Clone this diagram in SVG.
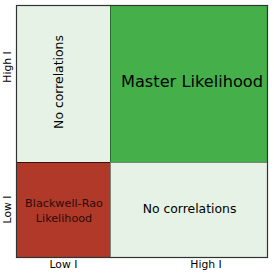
<svg xmlns="http://www.w3.org/2000/svg" width="274" height="274" viewBox="0 0 274 274">
<style>
text{font-family:"DejaVu Sans",sans-serif;fill:#000}
.lab{font-size:10.8px}
.light{fill:#e5f2e5;stroke:#7a857a;stroke-width:1}
.green{fill:#45b04a;stroke:#2a6e2d;stroke-width:1}
.red{fill:#b0392a;stroke:#3a120c;stroke-width:1}
</style>
<rect width="274" height="274" fill="#fff"/>
<g id="cell-high-low">
<rect class="light" x="16.5" y="5.5" width="94" height="157"/>
<text x="63" y="82" font-size="12.4" text-anchor="middle" transform="rotate(-90 63 82)">No correlations</text>
</g>
<g id="cell-high-high">
<rect class="green" x="110.5" y="5.5" width="157" height="157"/>
<text x="192" y="87" font-size="16.2" text-anchor="middle">Master Likelihood</text>
</g>
<g id="cell-low-low">
<rect class="red" x="16.5" y="162.5" width="94" height="95"/>
<text x="64" y="207" font-size="11.2" text-anchor="middle" style="fill:#2a0c08">Blackwell-Rao</text>
<text x="64" y="221.5" font-size="11.2" text-anchor="middle" style="fill:#2a0c08">Likelihood</text>
</g>
<g id="cell-low-high">
<rect class="light" x="110.5" y="162.5" width="157" height="95"/>
<text x="189.5" y="213" font-size="12.4" text-anchor="middle">No correlations</text>
</g>
<g id="frame">
<rect x="16.5" y="5.5" width="251" height="252" fill="none" stroke="#333" stroke-width="1.2"/>
</g>
<g id="axis-labels">
<text class="lab" x="63.5" y="268" text-anchor="middle">Low I</text>
<text class="lab" x="206" y="268" text-anchor="middle">High I</text>
<text class="lab" x="11" y="67" text-anchor="middle" transform="rotate(-90 11 67)">High I</text>
<text class="lab" x="11" y="209.5" text-anchor="middle" transform="rotate(-90 11 209.5)">Low I</text>
</g>
</svg>
